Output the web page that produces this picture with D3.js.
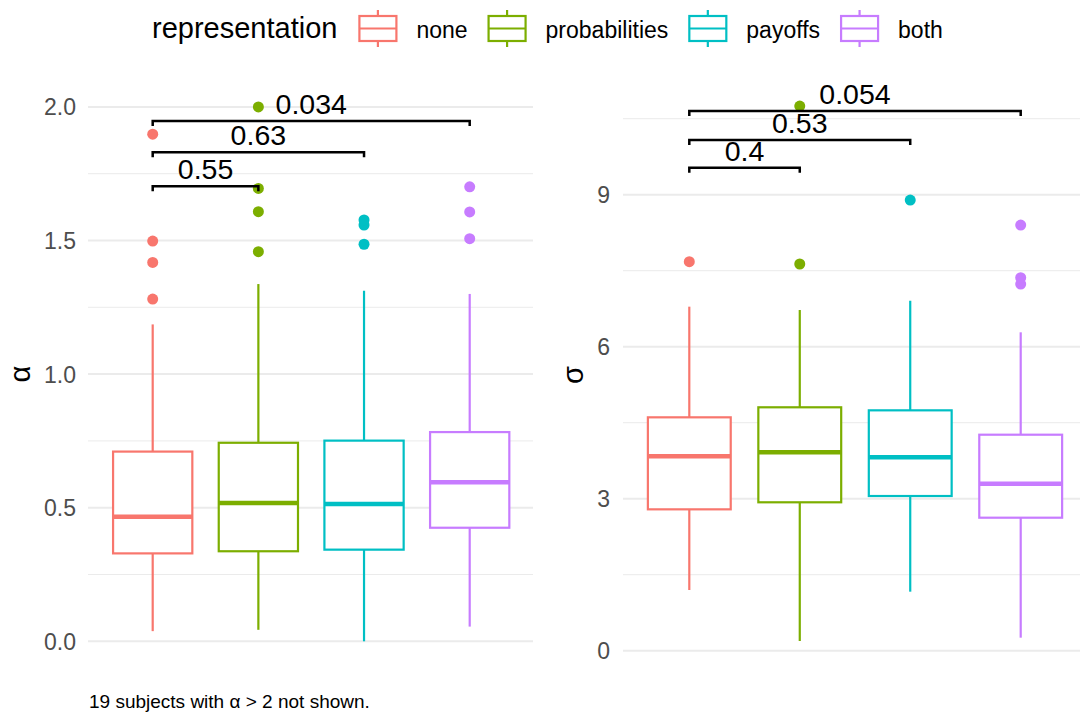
<!DOCTYPE html>
<html>
<head>
<meta charset="utf-8">
<script src="https://cdn.jsdelivr.net/npm/d3@7/dist/d3.min.js"></script>
<style>
  body { margin: 0; background: #fff; }
  svg { display: block; font-family: "Liberation Sans", Arial, sans-serif; }
</style>
</head>
<body>
<div id="chart"></div>
<script>
const WIDTH = 1080;
const HEIGHT = 715;

const categories = ["none", "probabilities", "payoffs", "both"];
const colors = ["#F8766D", "#7CAE00", "#00BFC4", "#C77CFF"];

// alpha: whisker low, Q1, median, Q3, whisker high
const alphaLow = [0.038, 0.043, 0.0, 0.055];
const alphaQ1 = [0.329, 0.337, 0.343, 0.425];
const alphaMedian = [0.466, 0.518, 0.514, 0.595];
const alphaQ3 = [0.710, 0.743, 0.751, 0.783];
const alphaHigh = [1.186, 1.337, 1.312, 1.300];
const alphaOutliers = [
  [1.281, 1.418, 1.498, 1.898],
  [1.458, 1.608, 1.695, 2.0],
  [1.486, 1.558, 1.577],
  [1.507, 1.607, 1.701]
];
const alphaMajor = [0, 0.5, 1, 1.5, 2];
const alphaMinor = [0.25, 0.75, 1.25, 1.75];
const alphaPairs = [["none", "probabilities"], ["none", "payoffs"], ["none", "both"]];
const alphaBracketY = [1.703, 1.830, 1.947];
const alphaPLabels = ["0.55", "0.63", "0.034"];

// sigma
const sigmaLow = [1.198, 0.191, 1.165, 0.257];
const sigmaQ1 = [2.79, 2.929, 3.053, 2.625];
const sigmaMedian = [3.836, 3.915, 3.817, 3.296];
const sigmaQ3 = [4.606, 4.804, 4.744, 4.263];
const sigmaHigh = [6.79, 6.724, 6.907, 6.284];
const sigmaOutliers = [
  [7.677],
  [7.632, 10.75],
  [8.895],
  [7.237, 7.362, 8.401]
];
const sigmaMajor = [0, 3, 6, 9];
const sigmaMinor = [1.5, 4.5, 7.5, 10.5];
const sigmaPairs = [["none", "probabilities"], ["none", "payoffs"], ["none", "both"]];
const sigmaBracketY = [9.532, 10.08, 10.65];
const sigmaPLabels = ["0.4", "0.53", "0.054"];

const svg = d3.select("#chart").append("svg")
  .attr("width", WIDTH)
  .attr("height", HEIGHT);

function crearPanel(cfg) {
  const g = svg.append("g");

  const y = d3.scaleLinear().domain(cfg.domain).range(cfg.yRange);
  const x = d3.scalePoint().domain(categories).range(cfg.xRange);
  const boxW = 0.75 * x.step();

  // grid
  g.selectAll(".minor")
    .data(cfg.minor)
    .join("line")
    .attr("x1", cfg.gridX[0]).attr("x2", cfg.gridX[1])
    .attr("y1", d => y(d)).attr("y2", d => y(d))
    .attr("stroke", "#EBEBEB")
    .attr("stroke-width", 1);

  g.selectAll(".major")
    .data(cfg.major)
    .join("line")
    .attr("x1", cfg.gridX[0]).attr("x2", cfg.gridX[1])
    .attr("y1", d => y(d)).attr("y2", d => y(d))
    .attr("stroke", "#EBEBEB")
    .attr("stroke-width", 2);

  // y axis labels
  const ejeY = d3.axisLeft(y).tickValues(cfg.major).tickFormat(cfg.format).tickSize(0).tickPadding(0);
  const ejeG = g.append("g")
    .attr("transform", `translate(${cfg.labelX}, 0)`)
    .call(ejeY);
  ejeG.select(".domain").remove();
  ejeG.selectAll("text")
    .attr("fill", "#4D4D4D")
    .attr("font-size", 23)
    .attr("font-family", "Liberation Sans, Arial, sans-serif")
    .attr("dy", "0.35em");

  g.append("text")
    .attr("transform", `translate(${cfg.titleX}, ${cfg.titleY}) rotate(-90)`)
    .attr("text-anchor", "middle")
    .attr("dy", "0.26em")
    .attr("font-size", 29)
    .attr("fill", "#000")
    .text(cfg.title);

  const datos = categories.map((c, i) => ({
    cat: c,
    color: colors[i],
    low: cfg.low[i], q1: cfg.q1[i], med: cfg.median[i], q3: cfg.q3[i], high: cfg.high[i],
    out: cfg.outliers[i]
  }));

  const cajas = g.selectAll(".caja")
    .data(datos)
    .join("g")
    .attr("class", "caja");

  cajas.append("line")
    .attr("x1", d => x(d.cat)).attr("x2", d => x(d.cat))
    .attr("y1", d => y(d.q3)).attr("y2", d => y(d.high))
    .attr("stroke", d => d.color).attr("stroke-width", 2.2);

  cajas.append("line")
    .attr("x1", d => x(d.cat)).attr("x2", d => x(d.cat))
    .attr("y1", d => y(d.q1)).attr("y2", d => y(d.low))
    .attr("stroke", d => d.color).attr("stroke-width", 2.2);

  cajas.append("rect")
    .attr("x", d => x(d.cat) - boxW / 2)
    .attr("width", boxW)
    .attr("y", d => y(d.q3))
    .attr("height", d => y(d.q1) - y(d.q3))
    .attr("fill", "#fff")
    .attr("stroke", d => d.color)
    .attr("stroke-width", 2.2);

  cajas.append("line")
    .attr("x1", d => x(d.cat) - boxW / 2).attr("x2", d => x(d.cat) + boxW / 2)
    .attr("y1", d => y(d.med)).attr("y2", d => y(d.med))
    .attr("stroke", d => d.color).attr("stroke-width", 4.5);

  cajas.selectAll("circle")
    .data(d => d.out.map(v => ({ v: v, cat: d.cat, color: d.color })))
    .join("circle")
    .attr("cx", d => x(d.cat))
    .attr("cy", d => y(d.v))
    .attr("r", 5.5)
    .attr("fill", d => d.color);

  // significance brackets
  const tests = cfg.pairs.map((p, i) => ({ a: p[0], b: p[1], yv: cfg.bracketY[i], label: cfg.pLabels[i] }));
  const tip = 5;
  const br = g.selectAll(".bracket")
    .data(tests)
    .join("g")
    .attr("class", "bracket");

  br.append("path")
    .attr("d", d => {
      const yy = y(d.yv);
      return `M${x(d.a)},${yy + tip}V${yy}H${x(d.b)}V${yy + tip}`;
    })
    .attr("fill", "none")
    .attr("stroke", "#000")
    .attr("stroke-width", 2.5);

  br.append("text")
    .attr("x", d => (x(d.a) + x(d.b)) / 2)
    .attr("y", d => y(d.yv) - 7)
    .attr("text-anchor", "middle")
    .attr("font-size", 28.5)
    .attr("fill", "#000")
    .text(d => d.label);
}

crearPanel({
  domain: [0, 2], yRange: [641.3, 106.9],
  xRange: [152.7, 469.7], gridX: [88, 533],
  major: alphaMajor, minor: alphaMinor, format: d3.format(".1f"),
  labelX: 76, title: "\u03b1", titleX: 22.5, titleY: 374,
  low: alphaLow, q1: alphaQ1, median: alphaMedian, q3: alphaQ3, high: alphaHigh,
  outliers: alphaOutliers,
  pairs: alphaPairs, bracketY: alphaBracketY, pLabels: alphaPLabels
});

crearPanel({
  domain: [0, 9], yRange: [650.7, 194.7],
  xRange: [689.3, 1020.7], gridX: [623, 1080],
  major: sigmaMajor, minor: sigmaMinor, format: d3.format("d"),
  labelX: 610, title: "\u03c3", titleX: 575.5, titleY: 375,
  low: sigmaLow, q1: sigmaQ1, median: sigmaMedian, q3: sigmaQ3, high: sigmaHigh,
  outliers: sigmaOutliers,
  pairs: sigmaPairs, bracketY: sigmaBracketY, pLabels: sigmaPLabels
});

// legend
const legend = svg.append("g").attr("transform", "translate(152, 0)");
const baseline = 37.5;
const titulo = legend.append("text")
  .attr("x", 0).attr("y", baseline)
  .attr("font-size", 29)
  .attr("fill", "#000")
  .text("representation");

let cx = titulo.node().getComputedTextLength() + 22;
const keyW = 37;
categories.forEach((c, i) => {
  const k = legend.append("g").attr("transform", `translate(${cx}, 0)`);
  k.append("line")
    .attr("x1", keyW / 2).attr("x2", keyW / 2)
    .attr("y1", 10).attr("y2", 47)
    .attr("stroke", colors[i]).attr("stroke-width", 2.2);
  k.append("rect")
    .attr("x", 0).attr("y", 16)
    .attr("width", keyW).attr("height", 25)
    .attr("fill", "#fff")
    .attr("stroke", colors[i]).attr("stroke-width", 2.2);
  k.append("line")
    .attr("x1", 0).attr("x2", keyW)
    .attr("y1", 28.5).attr("y2", 28.5)
    .attr("stroke", colors[i]).attr("stroke-width", 2.2);
  const t = legend.append("text")
    .attr("x", cx + keyW + 20).attr("y", baseline)
    .attr("font-size", 23)
    .attr("fill", "#000")
    .text(c);
  cx = cx + keyW + 20 + t.node().getComputedTextLength() + 21;
});

// caption
svg.append("text")
  .attr("x", 89).attr("y", 708)
  .attr("font-size", 19)
  .attr("fill", "#000")
  .text("19 subjects with \u03b1 > 2 not shown.");
</script>
</body>
</html>
